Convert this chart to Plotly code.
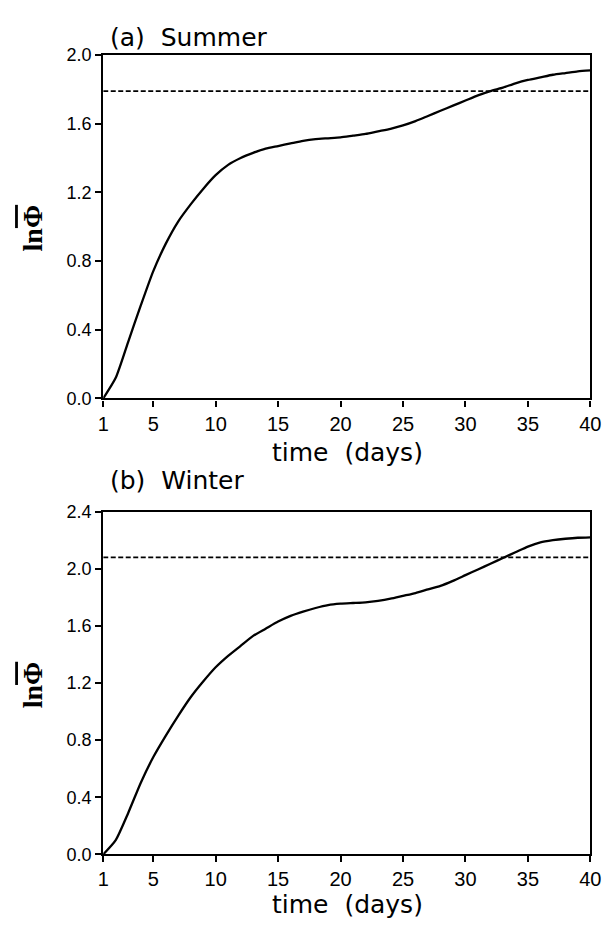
import plotly.graph_objects as go

days = list(range(1, 41))
summer = [0.00, 0.12, 0.33, 0.54, 0.74, 0.90, 1.03, 1.13, 1.22, 1.30,
          1.36, 1.40, 1.43, 1.455, 1.47, 1.485, 1.50, 1.51, 1.515, 1.52,
          1.53, 1.54, 1.555, 1.57, 1.59, 1.615, 1.645, 1.675, 1.705, 1.735,
          1.765, 1.79, 1.81, 1.835, 1.855, 1.87, 1.885, 1.895, 1.905, 1.91]
winter = [0.00, 0.10, 0.29, 0.50, 0.68, 0.83, 0.97, 1.10, 1.21, 1.31,
          1.39, 1.46, 1.53, 1.58, 1.63, 1.67, 1.70, 1.725, 1.745, 1.755,
          1.76, 1.765, 1.775, 1.79, 1.81, 1.83, 1.855, 1.88, 1.915, 1.955,
          1.995, 2.035, 2.075, 2.115, 2.155, 2.185, 2.20, 2.21, 2.217, 2.22]
summer_ref = 1.79
winter_ref = 2.08

x_ticks = [1, 5, 10, 15, 20, 25, 30, 35, 40]
y_ticks_a = [0.0, 0.4, 0.8, 1.2, 1.6, 2.0]
y_ticks_b = [0.0, 0.4, 0.8, 1.2, 1.6, 2.0, 2.4]

W, H = 614, 925
def px_x(p): return p / W
def px_y(p): return 1 - p / H

fig = go.Figure()
line = dict(color="black", width=2.3, shape="spline", smoothing=0.6)
dash = dict(color="black", width=1.8, dash="5px,2.5px")

fig.add_trace(go.Scatter(x=days, y=summer, mode="lines", line=line, xaxis="x", yaxis="y", showlegend=False))
fig.add_trace(go.Scatter(x=[1, 40], y=[summer_ref, summer_ref], mode="lines", line=dash, xaxis="x", yaxis="y", showlegend=False))
fig.add_trace(go.Scatter(x=days, y=winter, mode="lines", line=line, xaxis="x2", yaxis="y2", showlegend=False))
fig.add_trace(go.Scatter(x=[1, 40], y=[winter_ref, winter_ref], mode="lines", line=dash, xaxis="x2", yaxis="y2", showlegend=False))

xtickfont = dict(family="Liberation Sans", size=20, color="black")
ytickfont = dict(family="Liberation Sans", size=18, color="black")
ax_common = dict(showline=True, linecolor="black", linewidth=2.2, mirror=True,
                 ticks="outside", ticklen=6, tickwidth=2, tickcolor="black",
                 showgrid=False, zeroline=False)

xdom = [px_x(100), px_x(601)]
fig.update_layout(
    width=W, height=H, margin=dict(l=0, r=0, t=0, b=0),
    paper_bgcolor="white", plot_bgcolor="white",
    xaxis=dict(domain=xdom, range=[1, 40], tickvals=x_ticks, anchor="y", tickfont=xtickfont, **ax_common),
    yaxis=dict(domain=[px_y(397), px_y(46)], range=[0, 2.0], tickvals=y_ticks_a,
               tickformat=".1f", anchor="x", tickfont=ytickfont, **ax_common),
    xaxis2=dict(domain=xdom, range=[1, 40], tickvals=x_ticks, anchor="y2", tickfont=xtickfont, **ax_common),
    yaxis2=dict(domain=[px_y(863), px_y(512.7)], range=[0, 2.4], tickvals=y_ticks_b,
                tickformat=".1f", anchor="x2", tickfont=ytickfont, **ax_common),
)

titlefont = dict(family="DejaVu Sans", size=25, color="black")
xlabfont = dict(family="DejaVu Sans", size=25, color="black")
ylabfont = dict(family="Liberation Serif", size=28, color="black")
ylab = "<b>ln<span style='text-decoration:overline'>\u03a6</span></b>"
annots = [
    dict(text="(a)  Summer", x=px_x(105), y=px_y(28), xanchor="left", yanchor="middle", font=titlefont),
    dict(text="(b)  Winter", x=px_x(105), y=px_y(481), xanchor="left", yanchor="middle", font=titlefont),
    dict(text="time  (days)", x=px_x(351), y=px_y(452), xanchor="center", yanchor="middle", font=xlabfont),
    dict(text="time  (days)", x=px_x(351), y=px_y(914), xanchor="center", yanchor="middle", font=xlabfont),
    dict(text=ylab, x=px_x(27), y=px_y(223), xanchor="center", yanchor="middle", textangle=-90, font=ylabfont),
    dict(text=ylab, x=px_x(27), y=px_y(690), xanchor="center", yanchor="middle", textangle=-90, font=ylabfont),
]
for a in annots:
    a.update(xref="paper", yref="paper", showarrow=False)
fig.update_layout(annotations=annots)

fig.write_html("out.html", config={"displayModeBar": False},
               post_script="document.body.style.margin='0';")
